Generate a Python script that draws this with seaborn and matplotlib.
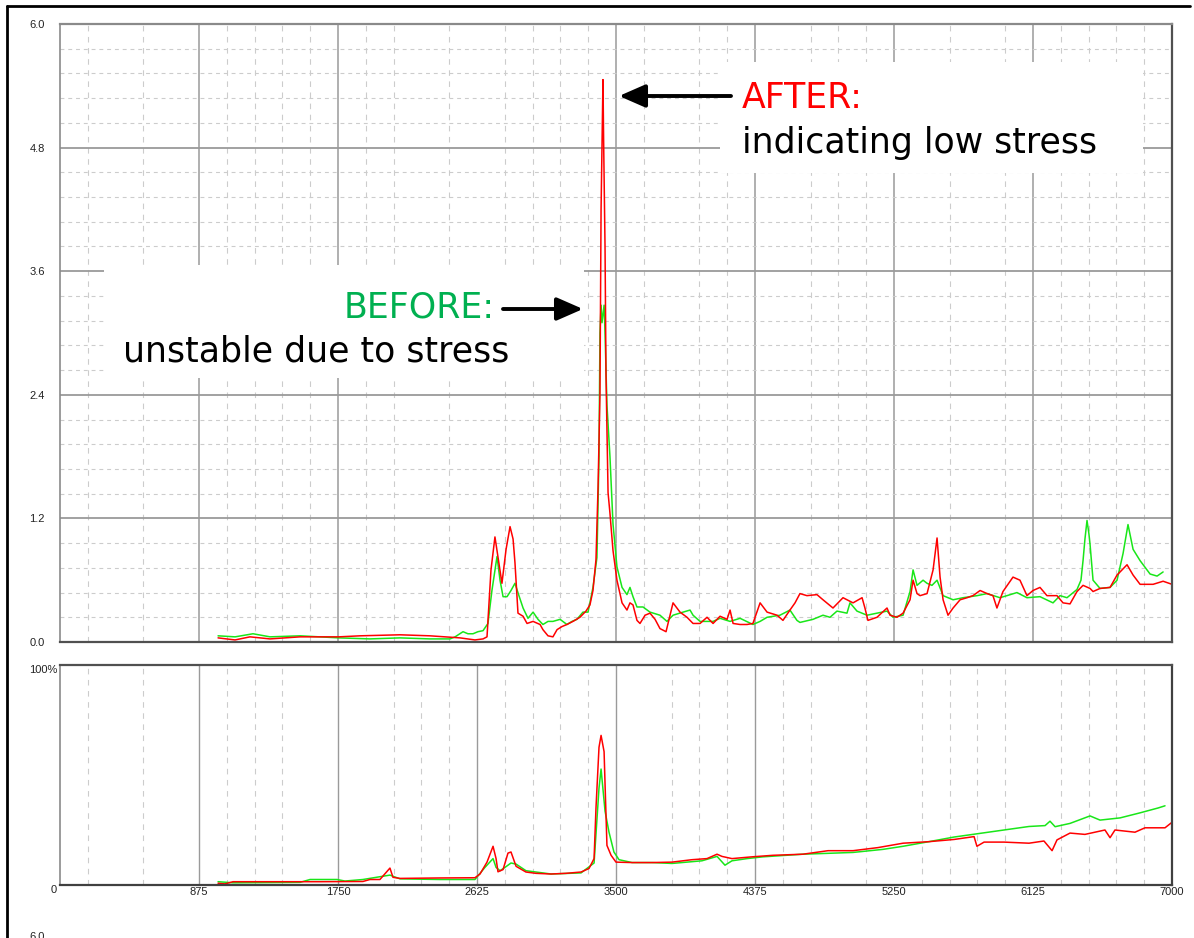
import numpy as np
import pandas as pd
import matplotlib
matplotlib.use("Agg")
import matplotlib.pyplot as plt
import seaborn as sns
from matplotlib.patches import Rectangle, FancyArrowPatch
from matplotlib.lines import Line2D

# ---------------- data ----------------
top_red_x = [995, 1102, 1196, 1322, 1511, 1756, 1889, 2140, 2329, 2518, 2612, 2663, 2688, 2713, 2738,
             2764, 2782, 2808, 2833, 2852, 2864, 2883, 2915, 2940, 2978, 3022, 3040, 3072, 3103, 3129,
             3160, 3191, 3229, 3273, 3311, 3336, 3355, 3374, 3387, 3399, 3406, 3418, 3422, 3431,
             3437, 3450, 3462, 3481, 3506, 3525, 3538, 3569, 3588, 3607, 3632, 3651, 3683, 3714, 3746,
             3777, 3815, 3859, 3903, 3947, 3985, 4029, 4073, 4111, 4155, 4199, 4218, 4237, 4281, 4325,
             4362, 4407, 4451, 4514, 4551, 4595, 4627, 4658, 4702, 4765, 4803, 4866, 4929, 4992, 5049,
             5067, 5086, 5143, 5206, 5225, 5269, 5307, 5351, 5370, 5395, 5414, 5458, 5496, 5521, 5540,
             5559, 5590, 5622, 5666, 5710, 5747, 5792, 5836, 5873, 5898, 5936, 5999, 6043, 6087, 6125,
             6169, 6213, 6276, 6314, 6358, 6402, 6440, 6484, 6503, 6547, 6610, 6654, 6717, 6755, 6799,
             6881, 6944, 7000]
top_red_y = [0.04, 0.02, 0.05, 0.03, 0.05, 0.05, 0.06, 0.07, 0.06, 0.04, 0.02, 0.03, 0.05, 0.70, 1.02,
             0.75, 0.57, 0.90, 1.12, 1.00, 0.77, 0.28, 0.25, 0.18, 0.20, 0.17, 0.12, 0.06, 0.05, 0.12,
             0.15, 0.17, 0.20, 0.24, 0.30, 0.36, 0.50, 0.80, 1.50, 2.40, 4.20, 5.46, 4.88, 3.83,
             2.60, 1.45, 1.25, 0.89, 0.60, 0.47, 0.38, 0.31, 0.38, 0.36, 0.21, 0.18, 0.26, 0.28, 0.22,
             0.13, 0.10, 0.38, 0.29, 0.24, 0.18, 0.18, 0.24, 0.18, 0.25, 0.22, 0.31, 0.18, 0.17, 0.17,
             0.18, 0.38, 0.29, 0.26, 0.21, 0.31, 0.38, 0.47, 0.45, 0.46, 0.41, 0.33, 0.43, 0.38, 0.43,
             0.33, 0.21, 0.24, 0.33, 0.26, 0.24, 0.28, 0.41, 0.60, 0.47, 0.45, 0.47, 0.70, 1.01, 0.63,
             0.41, 0.26, 0.33, 0.41, 0.43, 0.45, 0.50, 0.47, 0.45, 0.33, 0.49, 0.63, 0.60, 0.45, 0.50,
             0.53, 0.45, 0.45, 0.38, 0.37, 0.49, 0.55, 0.52, 0.49, 0.52, 0.53, 0.65, 0.75, 0.65, 0.56,
             0.56, 0.59, 0.56]

top_green_x = [995, 1102, 1215, 1322, 1511, 1756, 1951, 2140, 2329, 2455, 2487, 2537, 2568, 2600, 2631,
               2663, 2694, 2719, 2751, 2770, 2789, 2814, 2839, 2864, 2889, 2915, 2946, 2978, 3009, 3040,
               3072, 3103, 3148, 3191, 3223, 3254, 3292, 3324, 3355, 3380, 3393, 3399, 3406, 3412, 3425,
               3431, 3443, 3462, 3481, 3506, 3538, 3569, 3588, 3607, 3632, 3670, 3714, 3777, 3821, 3859,
               3922, 3966, 3985, 4029, 4111, 4155, 4218, 4281, 4362, 4407, 4451, 4532, 4595, 4639, 4658,
               4740, 4803, 4847, 4891, 4954, 4973, 5017, 5080, 5143, 5206, 5244, 5307, 5351, 5370, 5395,
               5433, 5458, 5489, 5521, 5559, 5622, 5685, 5773, 5836, 5917, 5961, 6024, 6087, 6169, 6251,
               6295, 6339, 6402, 6427, 6440, 6452, 6465, 6477, 6484, 6503, 6547, 6610, 6654, 6692, 6723,
               6755, 6799, 6862, 6906, 6944]
top_green_y = [0.06, 0.05, 0.08, 0.05, 0.06, 0.04, 0.03, 0.04, 0.03, 0.03, 0.05, 0.10, 0.08, 0.08, 0.10,
               0.11, 0.18, 0.50, 0.83, 0.60, 0.44, 0.44, 0.50, 0.57, 0.45, 0.33, 0.23, 0.29, 0.22, 0.17,
               0.20, 0.20, 0.22, 0.17, 0.20, 0.22, 0.29, 0.29, 0.53, 0.82, 1.80, 3.00, 3.27, 3.10, 3.27,
               3.00, 2.30, 1.80, 1.15, 0.73, 0.53, 0.46, 0.53, 0.44, 0.34, 0.34, 0.29, 0.26, 0.20, 0.26,
               0.29, 0.31, 0.26, 0.20, 0.20, 0.23, 0.20, 0.23, 0.17, 0.20, 0.24, 0.26, 0.31, 0.21, 0.19,
               0.22, 0.26, 0.24, 0.30, 0.28, 0.38, 0.30, 0.26, 0.28, 0.30, 0.24, 0.26, 0.49, 0.70, 0.55,
               0.60, 0.57, 0.55, 0.60, 0.45, 0.41, 0.43, 0.45, 0.47, 0.43, 0.45, 0.48, 0.43, 0.44, 0.38,
               0.45, 0.43, 0.51, 0.60, 0.79, 1.00, 1.18, 1.05, 0.95, 0.60, 0.52, 0.53, 0.60, 0.86, 1.14,
               0.90, 0.79, 0.66, 0.64, 0.68]

bot_red_x = [995, 1039, 1089, 1448, 1637, 1907, 1951, 2014, 2077, 2096, 2140, 2392, 2612, 2644, 2688,
             2726, 2745, 2757, 2789, 2820, 2839, 2871, 2933, 2996, 3091, 3185, 3280, 3330, 3362, 3374,
             3393, 3406, 3425, 3431, 3443, 3469, 3500, 3601, 3727, 3853, 3978, 4073, 4136, 4167, 4230,
             4356, 4488, 4677, 4835, 4992, 5149, 5307, 5470, 5628, 5754, 5772, 5817, 5942, 6100, 6194,
             6245, 6276, 6358, 6452, 6578, 6610, 6641, 6767, 6830, 6956, 7000]
bot_red_y = [0.8, 0.5, 1.5, 1.5, 1.5, 1.6, 2.5, 2.5, 7.7, 3.5, 3.0, 3.2, 3.3, 5.0, 10.4,
             17.6, 12.0, 6.0, 7.0, 14.5, 15.0, 8.5, 5.9, 5.3, 5.0, 5.3, 5.9, 7.5, 12.0, 35.0,
             62.6, 68.0, 60.6, 46.0, 18.0, 13.5, 10.4, 10.2, 10.2, 10.4, 11.5, 12.0, 14.0, 13.0, 12.0,
             12.8, 13.5, 14.0, 15.6, 15.6, 17.0, 19.0, 19.7, 20.7, 22.0, 17.6, 19.5, 19.5, 19.0, 20.0,
             15.6, 20.5, 23.6, 23.0, 25.0, 21.5, 25.0, 24.0, 26.0, 26.0, 28.5]

bot_green_x = [995, 1089, 1511, 1574, 1744, 1794, 1907, 2077, 2140, 2392, 2612, 2675, 2726, 2745, 2770,
               2801, 2839, 2871, 2933, 3091, 3280, 3362, 3393, 3406, 3431, 3456, 3487, 3519, 3601, 3727,
               3853, 4041, 4136, 4186, 4230, 4325, 4425, 4677, 4992, 5181, 5307, 5470, 5628, 5785, 5942,
               6100, 6201, 6232, 6264, 6358, 6484, 6547, 6673, 6799, 6912, 6956]
bot_green_y = [1.5, 1.0, 1.2, 2.5, 2.5, 1.8, 2.5, 4.5, 2.8, 2.5, 2.5, 8.0, 12.0, 8.0, 6.5,
               8.0, 10.0, 9.5, 6.5, 5.0, 5.5, 10.0, 44.0, 52.7, 33.6, 24.0, 15.0, 11.5, 10.2, 10.2,
               9.8, 11.0, 13.0, 9.0, 11.0, 12.0, 12.8, 14.0, 14.8, 16.2, 17.6, 19.7, 21.8, 23.4, 25.0,
               26.6, 27.0, 29.0, 26.5, 28.0, 31.4, 29.5, 30.5, 32.8, 35.0, 36.0]

y_top_ticks = [0.0, 1.2, 2.4, 3.6, 4.8, 6.0]
x_bot_ticks = [0, 875, 1750, 2625, 3500, 4375, 5250, 6125, 7000]
x_bot_labels = ["", "875", "1750", "2625", "3500", "4375", "5250", "6125", "7000"]

# grid positions (style)
top_vmajor = [875, 1750, 3500, 4375, 5250, 6125]
top_vminor = [175, 525, 1050, 1225, 1400, 1575, 1925, 2100, 2450, 2800, 2975, 3150, 3325,
              3675, 4025, 4200, 4725, 4900, 5075, 5600, 5950, 6300, 6475, 6650, 6825]
bot_vmajor = [875, 1750, 2625, 3500, 4375]
bot_vminor = [175, 525, 1050, 1225, 1400, 2100, 2275, 2450, 2800, 2975, 3150, 3325, 3850,
              4025, 4200, 4550, 4725, 5075, 5425, 5600, 5775, 5950, 6300, 6475, 6650, 6825]

# ---------------- figure ----------------
sns.set_style("white")
plt.rcParams['font.family'] = ['DejaVu Sans']

W, H = 1194, 938
fig = plt.figure(figsize=(W / 100, H / 100), dpi=100)


def fbox(l, t, r, b):
    return [l / W, 1 - b / H, (r - l) / W, (b - t) / H]


def fp(x, y):
    return (x / W, 1 - y / H)


ax1 = fig.add_axes(fbox(60, 24, 1172, 642))
ax2 = fig.add_axes(fbox(60, 665, 1172, 885))

RED = "#FF0000"
GREEN = "#19E619"
MAJ = "#9a9a9a"
MIN = "#cccccc"

# grids top
for v in top_vmajor:
    ax1.axvline(v, color=MAJ, lw=1.1, zorder=1)
for v in top_vminor:
    ax1.axvline(v, color=MIN, lw=0.8, ls=(0, (5, 5)), zorder=1)
for k in range(1, 25):
    v = k * 0.24
    if k % 5 == 0:
        ax1.axhline(v, color=MAJ, lw=1.3, zorder=1)
    else:
        ax1.axhline(v, color=MIN, lw=0.8, ls=(0, (3.5, 3.5)), zorder=1)

for v in bot_vmajor:
    ax2.axvline(v, color=MAJ, lw=1.0, zorder=1)
for v in bot_vminor:
    ax2.axvline(v, color=MIN, lw=0.8, ls=(0, (5, 5)), zorder=1)

# white boxes behind annotations
for (l, t, r, b) in [(720, 62, 1143, 173), (104, 265, 584, 378)]:
    ax1.add_patch(Rectangle(fp(l, b), (r - l) / W, (b - t) / H, transform=fig.transFigure,
                            facecolor="white", edgecolor="none", zorder=1.5, clip_on=False))

df_tg = pd.DataFrame({"x": top_green_x, "y": top_green_y})
df_tr = pd.DataFrame({"x": top_red_x, "y": top_red_y})
df_bg = pd.DataFrame({"x": bot_green_x, "y": bot_green_y})
df_br = pd.DataFrame({"x": bot_red_x, "y": bot_red_y})

sns.lineplot(data=df_tg, x="x", y="y", ax=ax1, color=GREEN, lw=1.1, estimator=None, sort=False, zorder=3)
sns.lineplot(data=df_tr, x="x", y="y", ax=ax1, color=RED, lw=1.1, estimator=None, sort=False, zorder=4)
sns.lineplot(data=df_bg, x="x", y="y", ax=ax2, color=GREEN, lw=1.1, estimator=None, sort=False, zorder=3)
sns.lineplot(data=df_br, x="x", y="y", ax=ax2, color=RED, lw=1.1, estimator=None, sort=False, zorder=4)

ax1.set_xlim(0, 7000)
ax1.set_ylim(0, 6.0)
ax2.set_xlim(0, 7000)
ax2.set_ylim(0, 100)

for ax in (ax1, ax2):
    ax.set_xlabel("")
    ax.set_ylabel("")

tick_font = dict(family="Liberation Sans", size=8, color="#222222")
ax1.set_xticks([])
ax1.set_yticks(y_top_ticks)
ax1.set_yticklabels([f"{v:.1f}" for v in y_top_ticks], fontdict=tick_font)
ax1.tick_params(axis="y", length=0, pad=11)

ax2.set_yticks([0, 100])
ax2.set_yticklabels(["0", "100%"], fontdict=tick_font, va="top")
ax2.tick_params(axis="y", length=0, pad=2)
ax2.set_xticks(x_bot_ticks)
ax2.set_xticklabels(x_bot_labels, fontdict=tick_font)
ax2.tick_params(axis="x", length=0, pad=1.5)

# spines
for ax, spec in [(ax1, {"top": ("#8a8a8a", 1.6), "left": ("#8a8a8a", 1.2),
                        "bottom": ("#505050", 1.6), "right": ("#505050", 1.6)}),
                 (ax2, {"top": ("#505050", 1.6), "left": ("#8a8a8a", 1.2),
                        "bottom": ("#404040", 1.6), "right": ("#404040", 1.6)})]:
    for side, (c, w) in spec.items():
        ax.spines[side].set_visible(True)
        ax.spines[side].set_color(c)
        ax.spines[side].set_linewidth(w)
        ax.spines[side].set_zorder(5)

# annotations
FS = 25
fig.text(*fp(742, 108), "AFTER:", color=RED, fontsize=FS, ha="left", va="baseline", zorder=10)
fig.text(*fp(742, 153), "indicating low stress", color="black", fontsize=FS, ha="left",
         va="baseline", zorder=10)
fig.text(*fp(495, 317), "BEFORE:", color="#00B050", fontsize=FS, ha="right", va="baseline", zorder=10)
fig.text(*fp(123, 361), "unstable due to stress", color="black", fontsize=FS, ha="left",
         va="baseline", zorder=10)

arrow_style = dict(arrowstyle="-|>,head_length=0.8,head_width=0.35", mutation_scale=20,
                   lw=2.8, color="black", shrinkA=0, shrinkB=0)
fig.add_artist(FancyArrowPatch(fp(731, 96), fp(619, 96), transform=fig.transFigure,
                               zorder=10, **arrow_style))
fig.add_artist(FancyArrowPatch(fp(503, 309), fp(583, 309), transform=fig.transFigure,
                               zorder=10, **arrow_style))

# outer frame and the label of the next (cut-off) panel
fig.add_artist(Line2D([7 / W, 7 / W], [0, 1 - 6 / H], color="black", lw=2, transform=fig.transFigure))
fig.add_artist(Line2D([7 / W, 1190 / W], [1 - 6 / H, 1 - 6 / H], color="black", lw=2,
                      transform=fig.transFigure))
fig.text(*fp(45, 937), "6.0", ha="right", va="center", family="Liberation Sans", size=8,
         color="#222222")

fig.savefig("out.png", dpi=100)
